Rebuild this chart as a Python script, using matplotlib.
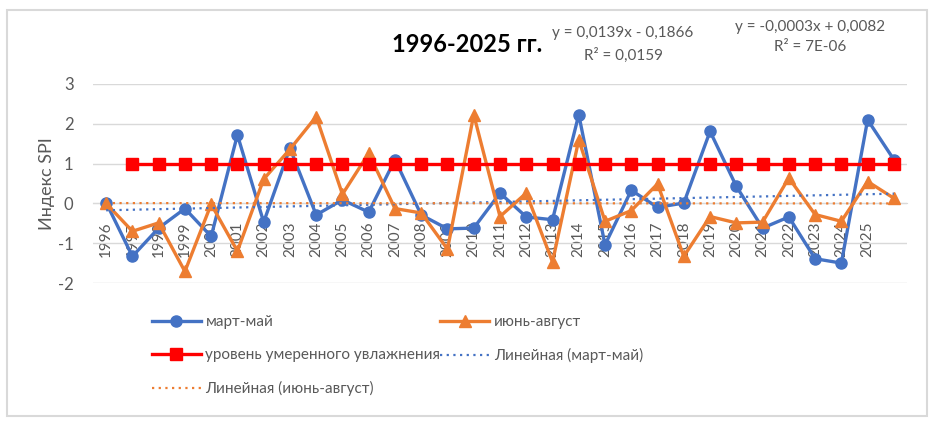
import numpy as np
import matplotlib
matplotlib.use('Agg')
from matplotlib import pyplot as plt
from matplotlib.patches import FancyBboxPatch

# categories: 1996..2025 plus one unlabelled point at the end
years = [str(y) for y in range(1996, 2026)] + ['']

# SPI index, March-May
spi_spring = [0.02, -1.33, -0.62, -0.13, -0.83, 1.72, -0.47, 1.39, -0.29, 0.09,
              -0.22, 1.10, -0.29, -0.64, -0.62, 0.26, -0.34, -0.41, 2.23, -1.04,
              0.33, -0.10, 0.01, 1.81, 0.43, -0.62, -0.34, -1.39, -1.50, 2.10, 1.10]

# SPI index, June-August
spi_summer = [0.0, -0.70, -0.49, -1.71, -0.02, -1.20, 0.61, 1.36, 2.18, 0.23,
              1.26, -0.13, -0.24, -1.15, 2.23, -0.33, 0.26, -1.47, 1.60, -0.45,
              -0.18, 0.49, -1.33, -0.33, -0.49, -0.47, 0.64, -0.28, -0.45, 0.55, 0.13]

# moderate moisture level (starts at the second category)
moist_level = [np.nan] + [1.0] * 30

# trendline coefficients as printed on the chart
trend_spring = (0.0139, -0.1866)
trend_summer = (-0.0003, 0.0082)

blue = '#4472C4'
orange = '#ED7D31'
red = '#FF0000'
text_gray = '#595959'

plt.rcParams['font.family'] = ['Lato', 'DejaVu Sans']

fig = plt.figure(figsize=(9.42, 4.21), dpi=100)

# chart border
fig.patches.append(FancyBboxPatch((7 / 942, 5 / 421), 920 / 942, 406 / 421,
                                  boxstyle='square,pad=0', transform=fig.transFigure,
                                  fill=False, edgecolor='#D9D9D9', linewidth=1.5))

ax = fig.add_axes([93 / 942, 1 - 283 / 421, 814 / 942, 199 / 421])

x = np.arange(1, len(years) + 1)

ax.plot(x, spi_spring, color=blue, lw=2.4, marker='o', ms=8, label='март-май', zorder=3)
ax.plot(x, spi_summer, color=orange, lw=2.4, marker='^', ms=9, label='июнь-август', zorder=4)
ax.plot(x, moist_level, color=red, lw=2.4, marker='s', ms=8,
        label='уровень умеренного увлажнения', zorder=5)

tb = trend_spring[0] * x + trend_spring[1]
ts = trend_summer[0] * x + trend_summer[1]
ax.plot(x, tb, color=blue, lw=1.6, ls=(0, (1, 2)), label='Линейная (март-май)', zorder=6)
ax.plot(x, ts, color=orange, lw=1.6, ls=(0, (1, 2)), label='Линейная (июнь-август)', zorder=6)

# horizontal axis crosses at zero, labels hang just below it
ax.spines['bottom'].set_position(('data', 0))
ax.spines['bottom'].set_color('#D9D9D9')
for s in ['top', 'right', 'left']:
    ax.spines[s].set_visible(False)

ax.set_xlim(0.5, len(years) + 0.5)
ax.set_ylim(-2, 3)
ax.set_yticks([-2, -1, 0, 1, 2, 3])
ax.set_yticklabels(['-2', '-1', '0', '1', '2', '3'])
ax.grid(axis='y', color='#D9D9D9', lw=1)
ax.set_axisbelow(True)

ax.set_xticks(x)
ax.set_xticklabels(years, rotation=90, fontsize=11, color=text_gray)
ax.tick_params(axis='x', length=0, pad=13)
ax.tick_params(axis='y', length=0, labelsize=12, labelcolor=text_gray, pad=14)

ax.set_ylabel('Индекс SPI', fontsize=13, color=text_gray, labelpad=2)

# title and trend equations
fig.text(467 / 942, 1 - 45 / 421, '1996-2025 гг.', fontsize=17, fontweight='bold',
         ha='center', va='center', color='black')
fig.text(623 / 942, 1 - 33 / 421, 'y = 0,0139x - 0,1866', fontsize=11, ha='center', va='center', color=text_gray)
fig.text(623 / 942, 1 - 55 / 421, 'R² = 0,0159', fontsize=11, ha='center', va='center', color=text_gray)
fig.text(810 / 942, 1 - 27 / 421, 'y = -0,0003x + 0,0082', fontsize=11, ha='center', va='center', color=text_gray)
fig.text(810 / 942, 1 - 47 / 421, 'R² = 7E-06', fontsize=11, ha='center', va='center', color=text_gray)

# legend, row-major order across two columns
handles, labels = ax.get_legend_handles_labels()
order = [0, 2, 4, 1, 3]
leg = fig.legend([handles[i] for i in order], [labels[i] for i in order],
                 ncol=2, loc='upper left', bbox_to_anchor=(152 / 942, 1 - 315 / 421),
                 frameon=False, fontsize=11, labelcolor=text_gray,
                 handlelength=3.2, handletextpad=0.3, columnspacing=0.0,
                 labelspacing=1.25, borderaxespad=0, borderpad=0)

fig.savefig('out.png', dpi=100)
